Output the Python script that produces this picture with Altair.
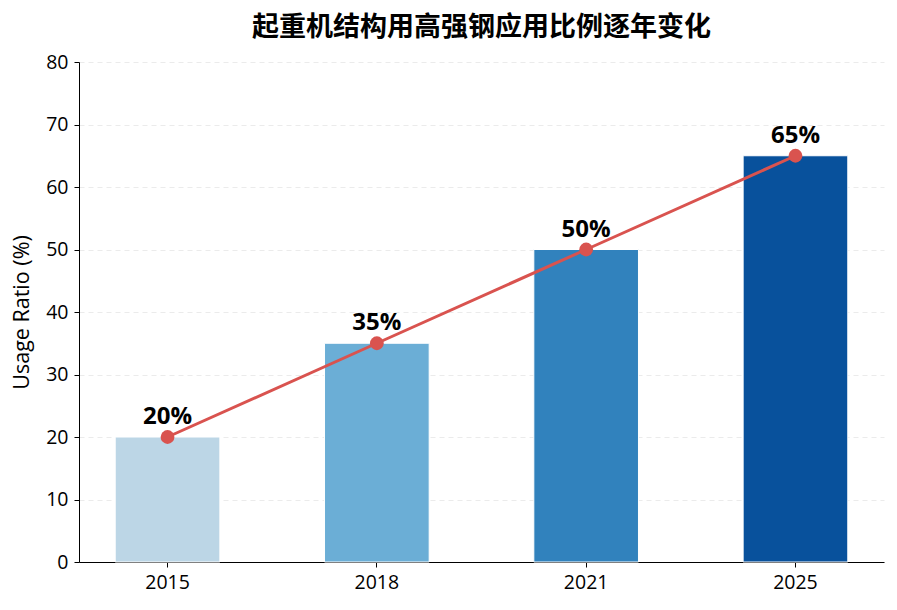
import altair as alt
import pandas as pd

years = ["2015", "2018", "2021", "2025"]
ratios = [20, 35, 50, 65]
bar_colors = ["#bcd6e6", "#6baed6", "#3182bd", "#08519c"]
labels = ["20%", "35%", "50%", "65%"]

df = pd.DataFrame({"year": years, "ratio": ratios, "color": bar_colors, "label": labels})

CJK = "Noto Sans CJK SC"
LAT = "Open Sans"

common_axis = dict(labelFont=LAT, labelFontSize=19.5, labelColor="#000",
                   domainColor="#000", tickColor="#000", tickSize=5, labelPadding=6)

x = alt.X("year:N", sort=years,
          scale=alt.Scale(paddingInner=0.5, paddingOuter=0.173),
          axis=alt.Axis(title=None, labelAngle=0, grid=False, **common_axis))
y = alt.Y("ratio:Q", scale=alt.Scale(domain=[0, 80], nice=False),
          axis=alt.Axis(title="Usage Ratio (%)", values=list(range(0, 81, 10)), grid=True,
                        titleFont=LAT, titleFontSize=21.5, titleFontWeight="normal",
                        titleColor="#000", titlePadding=12,
                        gridColor="#e6e6e6", gridDash=[5, 4], gridWidth=0.8,
                        **common_axis))

base = alt.Chart(df)

bars = base.mark_bar(stroke="white", strokeWidth=1).encode(
    x=x, y=y, color=alt.Color("color:N", scale=None))

line = base.mark_line(color="#d9534f", strokeWidth=3).encode(x=x, y=y)

points = base.mark_circle(color="#d9534f", size=190, opacity=1).encode(x=x, y=y)

text = base.mark_text(font=LAT, fontSize=24, fontWeight="bold", color="#000",
                      baseline="bottom", dy=-8).encode(x=x, y=y, text="label:N")

chart = alt.layer(bars, line, points, text).properties(
    width=805, height=500,
    title=alt.TitleParams("起重机结构用高强钢应用比例逐年变化", font=CJK, fontSize=27,
                          fontWeight="bold", color="#000", anchor="middle", offset=10),
    padding={"left": 79, "top": 62, "right": 13, "bottom": 48},
    autosize=alt.AutoSizeParams(type="none"),
).configure(
    background="white",
    view=alt.ViewConfig(stroke=None),
)

chart.save("out.html", embed_options={"renderer": "svg", "actions": False})
